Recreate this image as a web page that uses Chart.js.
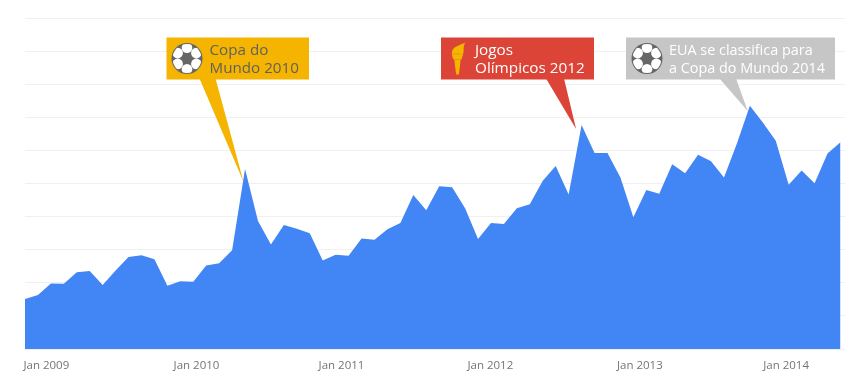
<!DOCTYPE html>
<html>
<head>
<meta charset="utf-8">
<style>
html, body { margin: 0; padding: 0; background: #fff; }
#wrap { position: relative; width: 865px; height: 381px; }
</style>
<script src="https://cdn.jsdelivr.net/npm/chart.js@4/dist/chart.umd.js"></script>
</head>
<body>
<div id="wrap"><canvas id="trendChart" width="865" height="381"></canvas></div>
<script>
// monthly interest (Jan 2009 .. Apr 2014)
const interest = [
    15.1, 16.3, 19.8, 19.7, 23.2, 23.6, 19.3, 23.7, 27.8, 28.3, 27.1, 19.1,
    20.5, 20.3, 25.2, 25.9, 29.8, 54.4, 38.7, 31.6, 37.5, 36.3, 35.0, 26.7,
    28.5, 28.2, 33.4, 33.0, 36.2, 38.1, 46.5, 41.9, 49.2, 48.9, 42.5, 33.2,
    38.1, 37.8, 42.5, 43.7, 50.8, 55.3, 46.7, 67.7, 59.2, 59.2, 51.8, 39.8,
    48.0, 46.9, 55.8, 53.1, 58.7, 56.7, 51.8, 62.1, 73.5, 68.4, 62.9, 49.6,
    53.9, 50.1, 59.1, 62.5
];
const tickLabels = ['Jan 2009', 'Jan 2010', 'Jan 2011', 'Jan 2012', 'Jan 2013', 'Jan 2014'];
// the labels sit evenly spaced and do not line up with the months
const tickSpots = [1.65, 13.25, 24.45, 35.95, 47.5, 58.8];

const calloutTexts = [
    ['Copa do', 'Mundo 2010'],
    ['Jogos', 'Olímpicos 2012'],
    ['EUA se classifica para', 'a Copa do Mundo 2014']
];
const calloutPeaks = [17, 43, 56];

const callouts = [
    { box: [166.5, 37.5, 142.5, 42], base: [199.5, 215.5], tip: [-1.5, 13], fill: '#f4b400', text: '#616161', font: '500 15.2px "Open Sans"', textX: 209.5, icon: 'ball', iconX: 187 },
    { box: [441, 37.5, 153, 42], base: [546, 564], tip: [-5.5, 4], fill: '#db4437', text: '#ffffff', font: '500 15.3px "Open Sans"', textX: 475, icon: 'torch', iconX: 457.5 },
    { box: [626, 37.5, 209, 42], base: [719.5, 736], tip: [-2, 5.5], fill: '#c6c6c6', text: '#ffffff', font: '14.4px "Open Sans"', textX: 669, icon: 'ball', iconX: 647 }
];

function drawBall(ctx, cx, cy) {
    ctx.fillStyle = '#666666';
    ctx.beginPath();
    ctx.arc(cx, cy, 15.5, 0, Math.PI * 2);
    ctx.fill();
    ctx.save();
    ctx.beginPath();
    ctx.arc(cx, cy, 14.5, 0, Math.PI * 2);
    ctx.clip();
    // white patches around the dark centre
    ctx.fillStyle = '#ffffff';
    for (let i = 0; i < 6; i++) {
        const a = -Math.PI / 2 + i * Math.PI / 3;
        ctx.beginPath();
        ctx.arc(cx + Math.cos(a) * 10.8, cy + Math.sin(a) * 10.8, 5.3, 0, Math.PI * 2);
        ctx.fill();
    }
    ctx.restore();
}

function drawTorch(ctx, cx, cy) {
    ctx.fillStyle = '#f4b400';
    // flame and cup
    ctx.beginPath();
    ctx.moveTo(cx - 4, cy + 1);
    ctx.bezierCurveTo(cx - 6, cy - 3, cx - 6.5, cy - 8, cx - 3, cy - 11);
    ctx.bezierCurveTo(cx, cy - 13, cx + 4, cy - 14, cx + 8, cy - 16);
    ctx.bezierCurveTo(cx + 5, cy - 12, cx + 7, cy - 8, cx + 5.5, cy - 4);
    ctx.lineTo(cx + 4, cy + 1);
    ctx.closePath();
    ctx.fill();
    // band under the flame
    ctx.fillStyle = '#e59a00';
    ctx.fillRect(cx - 5, cy - 5, 10, 1);
    // handle
    ctx.fillStyle = '#f4b400';
    ctx.beginPath();
    ctx.moveTo(cx - 3.2, cy + 1);
    ctx.lineTo(cx + 3.2, cy + 1);
    ctx.lineTo(cx + 1.4, cy + 16);
    ctx.lineTo(cx - 1.4, cy + 16);
    ctx.closePath();
    ctx.fill();
}

const calloutPlugin = {
    id: 'callouts',
    afterDatasetsDraw(chart) {
        const ctx = chart.ctx;
        const xs = chart.scales.x;
        const ys = chart.scales.y;
        callouts.forEach((c, i) => {
            const peak = calloutPeaks[i];
            const tipX = xs.getPixelForValue(peak) + c.tip[0];
            const tipY = ys.getPixelForValue(interest[peak]) + c.tip[1];
            const boxBottom = c.box[1] + c.box[3];
            ctx.save();
            ctx.fillStyle = c.fill;
            ctx.fillRect(c.box[0], c.box[1], c.box[2], c.box[3]);
            ctx.beginPath();
            ctx.moveTo(c.base[0], boxBottom - 1);
            ctx.lineTo(c.base[1], boxBottom - 1);
            ctx.lineTo(tipX, tipY);
            ctx.closePath();
            ctx.fill();
            if (c.icon === 'ball') drawBall(ctx, c.iconX, 58.5);
            else drawTorch(ctx, c.iconX, 58.5);
            ctx.fillStyle = c.text;
            ctx.font = c.font;
            ctx.textBaseline = 'alphabetic';
            ctx.fillText(calloutTexts[i][0], c.textX, 55);
            ctx.fillText(calloutTexts[i][1], c.textX, 72.5);
            ctx.restore();
        });
    }
};

const ctx = document.getElementById('trendChart').getContext('2d');
const trendChart = new Chart(ctx, {
    type: 'line',
    data: {
        datasets: [{
            data: interest.map((v, i) => ({ x: i, y: v })),
            fill: 'origin',
            backgroundColor: '#4285f4',
            borderWidth: 0,
            pointRadius: 0,
            tension: 0
        }]
    },
    options: {
        responsive: false,
        animation: false,
        layout: { padding: { left: 25, right: 20, top: 18, bottom: 0 } },
        plugins: { legend: { display: false }, tooltip: { enabled: false } },
        scales: {
            x: {
                type: 'linear',
                min: 0,
                max: 63.35,
                afterBuildTicks(axis) {
                    axis.ticks = tickSpots.map(v => ({ value: v }));
                },
                afterFit(axis) { axis.height = 32; },
                grid: { display: false },
                border: { display: false },
                ticks: {
                    autoSkip: false,
                    maxRotation: 0,
                    padding: 2,
                    color: '#757575',
                    font: { family: '"Open Sans"', size: 11.5 },
                    callback(value, index) { return tickLabels[index]; }
                }
            },
            y: {
                min: 0,
                max: 100,
                afterFit(axis) { axis.width = 0; },
                grid: { color: '#f0f0f0', lineWidth: 1, drawTicks: false },
                border: { display: false },
                ticks: { stepSize: 10, display: false }
            }
        }
    },
    plugins: [calloutPlugin]
});
</script>
</body>
</html>
